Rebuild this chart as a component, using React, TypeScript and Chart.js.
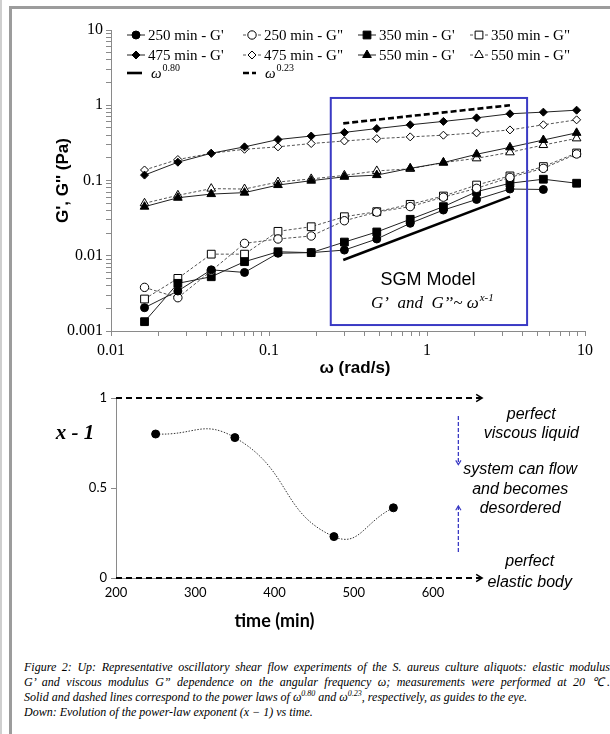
import React, { useEffect, useRef } from 'react';
import { Chart, registerables } from 'chart.js';
import { drawPoint } from 'chart.js/helpers';

Chart.register(...registerables);

// ---------------- data (top chart) ----------------
const omega = [0.0163, 0.0265, 0.0431, 0.07, 0.114, 0.185, 0.3, 0.481, 0.783, 1.27, 2.06, 3.35, 5.45, 8.85];
const g250Elastic = [0.00204, 0.0034, 0.0065, 0.006, 0.0108, 0.011, 0.0119, 0.0167, 0.027, 0.0405, 0.056, 0.077, 0.076, null];
const g250Viscous = [0.0038, 0.00277, 0.0063, 0.0146, 0.0167, 0.0183, 0.0292, 0.038, 0.045, 0.06, 0.0787, 0.11, 0.145, 0.225];
const g350Elastic = [0.00133, 0.0043, 0.00526, 0.00834, 0.0113, 0.011, 0.0152, 0.0207, 0.0305, 0.0449, 0.071, 0.092, 0.104, 0.092];
const g350Viscous = [0.00266, 0.005, 0.0105, 0.0105, 0.0211, 0.0243, 0.033, 0.0385, 0.0482, 0.0622, 0.087, 0.115, 0.153, 0.232];
const g475Elastic = [0.118, 0.175, 0.23, 0.28, 0.35, 0.39, 0.436, 0.49, 0.55, 0.61, 0.68, 0.77, 0.81, 0.86];
const g475Viscous = [0.138, 0.19, 0.23, 0.26, 0.28, 0.31, 0.335, 0.36, 0.38, 0.4, 0.43, 0.47, 0.55, 0.64];
const g550Elastic = [0.0449, 0.059, 0.066, 0.069, 0.087, 0.0995, 0.112, 0.118, 0.145, 0.173, 0.223, 0.276, 0.345, 0.43];
const g550Viscous = [0.0498, 0.0636, 0.078, 0.077, 0.0955, 0.105, 0.117, 0.134, 0.143, 0.173, 0.197, 0.237, 0.296, 0.363];
const powerLawOmega = [0.295, 3.35];
const powerLaw080 = [0.0088, 0.061];
const powerLaw023 = [0.575, 1.0];
const omegaTicks = [0.01, 0.1, 1, 10];
const omegaTickLabels = ['0.01', '0.1', '1', '10'];
const modulusTicks = [0.001, 0.01, 0.1, 1, 10];
const modulusTickLabels = ['0.001', '0.01', '0.1', '1', '10'];
const sgmBoxOmega = [0.246, 4.3];
const sgmBoxModulus = [0.0012, 1.25];

// ---------------- data (bottom chart) ----------------
const timeMin = [250, 350, 475, 550];
const exponentValues = [0.8, 0.78, 0.23, 0.39];
const timeTicks = [200, 300, 400, 500, 600];
const exponentTicks = [0, 0.5, 1];
const exponentTickLabels = ['0', '0.5', '1'];
const limitTimes = [200, 662];
const viscousLimit = [1, 1];
const elasticLimit = [0, 0];
const guideTime = [632, 632];
const guideDown = [0.9, 0.63];
const guideUp = [0.145, 0.4];

// ---------------- styles ----------------
const SERIF = "'Liberation Serif', 'Times New Roman', serif";
const SANS = "'Liberation Sans', Arial, sans-serif";
const CAL = "Lato, 'Liberation Sans', sans-serif";
const AXIS_GRAY = '#8a8a8a';

const topSeries = [
  { label: "250 min - G'", values: g250Elastic, style: 'circle', filled: true, dashed: false, r: 4 },
  { label: '250 min - G"', values: g250Viscous, style: 'circle', filled: false, dashed: true, r: 4.2 },
  { label: "350 min - G'", values: g350Elastic, style: 'rect', filled: true, dashed: false, r: 5.5 },
  { label: '350 min - G"', values: g350Viscous, style: 'rect', filled: false, dashed: true, r: 5.5 },
  { label: "475 min - G'", values: g475Elastic, style: 'rectRot', filled: true, dashed: false, r: 4 },
  { label: '475 min - G"', values: g475Viscous, style: 'rectRot', filled: false, dashed: true, r: 4 },
  { label: "550 min - G'", values: g550Elastic, style: 'triangle', filled: true, dashed: false, r: 5 },
  { label: '550 min - G"', values: g550Viscous, style: 'triangle', filled: false, dashed: true, r: 5 },
];

const legendCols = [127, 243, 358, 470];
const legendRows = [35, 55, 73];

const logTicks = (majors: number[]) => {
  const out: number[] = [];
  for (let i = 0; i < majors.length - 1; i++) {
    for (let k = 1; k <= 9; k++) out.push(+(majors[i] * k).toPrecision(6));
  }
  out.push(majors[majors.length - 1]);
  return out;
};
const labelFor = (majors: number[], labels: string[]) => (v: any) => {
  const n = Number(v);
  const i = majors.findIndex((m) => Math.abs(n - m) <= Math.abs(m) * 1e-6 + 1e-12);
  return i >= 0 ? labels[i] : '';
};

function arrowHead(ctx: CanvasRenderingContext2D, x1: number, y1: number, x2: number, y2: number, size: number, color: string, width: number) {
  const a = Math.atan2(y2 - y1, x2 - x1);
  ctx.save();
  ctx.strokeStyle = color;
  ctx.lineWidth = width;
  ctx.setLineDash([]);
  ctx.beginPath();
  ctx.moveTo(x2 - size * Math.cos(a - 0.55), y2 - size * Math.sin(a - 0.55));
  ctx.lineTo(x2, y2);
  ctx.lineTo(x2 - size * Math.cos(a + 0.55), y2 - size * Math.sin(a + 0.55));
  ctx.stroke();
  ctx.restore();
}

const topPlugin = {
  id: 'topDecor',
  afterDatasetsDraw(chart: any) {
    const { ctx, scales } = chart;
    const xs = scales.x;
    const ys = scales.y;
    // SGM box
    const bx1 = xs.getPixelForValue(sgmBoxOmega[0]);
    const bx2 = xs.getPixelForValue(sgmBoxOmega[1]);
    const by1 = ys.getPixelForValue(sgmBoxModulus[1]);
    const by2 = ys.getPixelForValue(sgmBoxModulus[0]);
    ctx.save();
    ctx.strokeStyle = '#3a3ac4';
    ctx.lineWidth = 2;
    ctx.strokeRect(bx1, by1, bx2 - bx1, by2 - by1);
    // texts
    ctx.fillStyle = '#000';
    ctx.textAlign = 'center';
    ctx.textBaseline = 'middle';
    ctx.font = `18px ${SANS}`;
    ctx.fillText('SGM Model', xs.getPixelForValue(1.014), ys.getPixelForValue(0.00476));
    const parts = [
      { t: 'G’  and  G’’~ ω', f: `italic 17px ${SERIF}`, dy: 0 },
      { t: 'x-1', f: `italic 11px ${SERIF}`, dy: -6 },
    ];
    let total = 0;
    parts.forEach((p) => { ctx.font = p.f; total += ctx.measureText(p.t).width + 1; });
    let px = xs.getPixelForValue(1.09) - total / 2;
    const py = ys.getPixelForValue(0.00229);
    ctx.textAlign = 'left';
    parts.forEach((p) => { ctx.font = p.f; ctx.fillText(p.t, px, py + p.dy); px += ctx.measureText(p.t).width + 1; });
    ctx.restore();
  },
  afterDraw(chart: any) {
    const { ctx, chartArea } = chart;
    // x-axis title
    ctx.save();
    ctx.fillStyle = '#000';
    ctx.textAlign = 'center';
    ctx.textBaseline = 'middle';
    ctx.font = `bold 17px ${SANS}`;
    ctx.fillText('ω (rad/s)', (chartArea.left + chartArea.right) / 2 + 7, chartArea.bottom + 37);
    ctx.restore();
    // legend
    chart.data.datasets.forEach((ds: any, i: number) => {
      const col = i % 4;
      const row = Math.floor(i / 4);
      const x = legendCols[col];
      const y = legendRows[row];
      const len = ds.legendLen;
      ctx.save();
      ctx.strokeStyle = ds.borderColor;
      ctx.lineWidth = ds.borderWidth;
      ctx.setLineDash(ds.borderDash || []);
      ctx.beginPath();
      ctx.moveTo(x, y);
      ctx.lineTo(x + len, y);
      ctx.stroke();
      ctx.setLineDash([]);
      if (ds.pointRadius > 0) {
        ctx.fillStyle = ds.pointBackgroundColor;
        ctx.strokeStyle = ds.pointBorderColor;
        ctx.lineWidth = 1;
        drawPoint(ctx, { pointStyle: ds.pointStyle, radius: ds.pointRadius, borderWidth: 1, rotation: 0 } as any, x + len / 2, y);
      }
      ctx.fillStyle = '#000';
      ctx.textBaseline = 'middle';
      ctx.textAlign = 'left';
      const tx = x + len + ds.legendGap;
      if (ds.label.startsWith('ω^')) {
        ctx.font = `italic 15px ${SERIF}`;
        ctx.fillText('ω', tx, y + 1);
        const w = ctx.measureText('ω').width;
        ctx.font = `10px ${SERIF}`;
        ctx.fillText(ds.label.slice(2), tx + w + 1, y - 5);
      } else {
        ctx.font = `15px ${SERIF}`;
        ctx.fillText(ds.label, tx, y + 1);
      }
      ctx.restore();
    });
  },
};

const bottomNotes = [
  { text: 'perfect', t: 724, v: 0.91 },
  { text: 'viscous liquid', t: 724, v: 0.8 },
  { text: 'system can flow', t: 710, v: 0.6 },
  { text: 'and becomes', t: 710, v: 0.494 },
  { text: 'desordered', t: 710, v: 0.388 },
  { text: 'perfect', t: 722, v: 0.09 },
  { text: 'elastic body', t: 722, v: -0.027 },
];

const bottomPlugin = {
  id: 'bottomDecor',
  afterDatasetsDraw(chart: any) {
    const { ctx, scales, chartArea } = chart;
    chart.data.datasets.forEach((ds: any, i: number) => {
      if (!ds.arrow) return;
      const pts = chart.getDatasetMeta(i).data;
      const a = pts[pts.length - 2];
      const b = pts[pts.length - 1];
      arrowHead(ctx, a.x, a.y, b.x, b.y, ds.arrowSize, ds.arrowColor, ds.arrowWidth);
    });
    ctx.save();
    ctx.fillStyle = '#000';
    ctx.textAlign = 'center';
    ctx.textBaseline = 'middle';
    ctx.font = `italic 16px ${SANS}`;
    bottomNotes.forEach((n) => {
      ctx.fillText(n.text, scales.x.getPixelForValue(n.t), scales.y.getPixelForValue(n.v));
    });
    ctx.font = `italic bold 21px ${SERIF}`;
    ctx.fillText('x - 1', chartArea.left - 41, scales.y.getPixelForValue(0.8));
    ctx.restore();
  },
};

function TopChart() {
  const ref = useRef<HTMLCanvasElement>(null);
  useEffect(() => {
    if (!ref.current) return;
    const datasets: any[] = topSeries.map((s) => ({
      label: s.label,
      data: omega.map((x, i) => ({ x, y: s.values[i] })).filter((p) => p.y !== null),
      showLine: true,
      borderColor: s.dashed ? '#555' : '#222',
      borderWidth: 1,
      borderDash: s.dashed ? [3, 2] : [],
      pointStyle: s.style,
      pointRadius: s.r,
      pointHoverRadius: s.r,
      pointBackgroundColor: s.filled ? '#000' : '#fff',
      pointBorderColor: '#000',
      pointBorderWidth: 1,
      legendLen: 18,
      legendGap: 3,
    }));
    datasets.push({
      label: 'ω^0.80',
      data: powerLawOmega.map((x, i) => ({ x, y: powerLaw080[i] })),
      showLine: true,
      borderColor: '#000',
      borderWidth: 2.6,
      borderDash: [],
      pointRadius: 0,
      legendLen: 15,
      legendGap: 9,
    });
    datasets.push({
      label: 'ω^0.23',
      data: powerLawOmega.map((x, i) => ({ x, y: powerLaw023[i] })),
      showLine: true,
      borderColor: '#000',
      borderWidth: 2.6,
      borderDash: [6, 3],
      pointRadius: 0,
      legendLen: 13,
      legendGap: 9,
    });
    const chart = new Chart(ref.current, {
      type: 'scatter',
      data: { datasets },
      options: {
        animation: false,
        responsive: false,
        devicePixelRatio: 1,
        events: [],
        layout: { padding: { left: 0, right: 25, top: 30, bottom: 0 } },
        plugins: { legend: { display: false }, tooltip: { enabled: false } },
        scales: {
          x: {
            type: 'logarithmic',
            min: 0.01,
            max: 10,
            afterBuildTicks: (s: any) => { s.ticks = logTicks(omegaTicks).map((v) => ({ value: v })); },
            afterFit: (s: any) => { s.height = 49; },
            ticks: { autoSkip: false, maxRotation: 0, callback: labelFor(omegaTicks, omegaTickLabels), font: { family: SERIF, size: 16 }, color: '#000', padding: 5 },
            grid: { display: true, drawOnChartArea: false, drawTicks: true, tickLength: 5, color: AXIS_GRAY },
            border: { display: true, color: AXIS_GRAY, width: 1 },
          },
          y: {
            type: 'logarithmic',
            min: 0.001,
            max: 10,
            afterBuildTicks: (s: any) => { s.ticks = logTicks(modulusTicks).map((v) => ({ value: v })); },
            afterFit: (s: any) => { s.width = 111; },
            ticks: { autoSkip: false, callback: labelFor(modulusTicks, modulusTickLabels), font: { family: SERIF, size: 16 }, color: '#000', padding: 3 },
            grid: { display: true, drawOnChartArea: false, drawTicks: true, tickLength: 5, color: AXIS_GRAY },
            border: { display: true, color: AXIS_GRAY, width: 1 },
            title: { display: true, text: "G', G'' (Pa)", font: { family: SANS, size: 17, weight: 'bold' }, color: '#000', padding: { top: 53, bottom: 0 } },
          },
        },
      } as any,
      plugins: [topPlugin],
    });
    return () => chart.destroy();
  }, []);
  return <canvas ref={ref} width={610} height={380} style={{ position: 'absolute', left: 0, top: 0, width: 610, height: 380 }} />;
}

function BottomChart() {
  const ref = useRef<HTMLCanvasElement>(null);
  useEffect(() => {
    if (!ref.current) return;
    const datasets: any[] = [
      {
        label: 'x - 1',
        data: timeMin.map((t, i) => ({ x: t, y: exponentValues[i] })),
        showLine: true,
        borderColor: '#333',
        borderWidth: 1,
        borderDash: [1.5, 1.5],
        tension: 0.5,
        pointRadius: 4,
        pointBackgroundColor: '#000',
        pointBorderColor: '#000',
        pointBorderWidth: 1,
      },
      {
        label: 'viscous limit',
        data: limitTimes.map((t, i) => ({ x: t, y: viscousLimit[i] })),
        showLine: true, borderColor: '#000', borderWidth: 2, borderDash: [6, 4], pointRadius: 0, clip: false,
        arrow: true, arrowSize: 7, arrowColor: '#000', arrowWidth: 1.5,
      },
      {
        label: 'elastic limit',
        data: limitTimes.map((t, i) => ({ x: t, y: elasticLimit[i] })),
        showLine: true, borderColor: '#000', borderWidth: 2, borderDash: [6, 4], pointRadius: 0, clip: false,
        arrow: true, arrowSize: 7, arrowColor: '#000', arrowWidth: 1.5,
      },
      {
        label: 'to flow (down)',
        data: guideTime.map((t, i) => ({ x: t, y: guideDown[i] })),
        showLine: true, borderColor: '#3a3ac4', borderWidth: 1.3, borderDash: [4, 2], pointRadius: 0, clip: false,
        arrow: true, arrowSize: 5, arrowColor: '#3a3ac4', arrowWidth: 1.2,
      },
      {
        label: 'to flow (up)',
        data: guideTime.map((t, i) => ({ x: t, y: guideUp[i] })),
        showLine: true, borderColor: '#3a3ac4', borderWidth: 1.3, borderDash: [4, 2], pointRadius: 0, clip: false,
        arrow: true, arrowSize: 5, arrowColor: '#3a3ac4', arrowWidth: 1.2,
      },
    ];
    const chart = new Chart(ref.current, {
      type: 'scatter',
      data: { datasets },
      options: {
        animation: false,
        responsive: false,
        devicePixelRatio: 1,
        events: [],
        layout: { padding: { left: 0, right: 177, top: 18, bottom: 0 } },
        plugins: { legend: { display: false }, tooltip: { enabled: false } },
        scales: {
          x: {
            type: 'linear',
            min: 200,
            max: 600,
            afterBuildTicks: (s: any) => { s.ticks = timeTicks.map((v) => ({ value: v })); },
            afterFit: (s: any) => { s.height = 62; },
            ticks: { autoSkip: false, maxRotation: 0, font: { family: CAL, size: 13 }, color: '#000', padding: 7 },
            grid: { display: false, drawTicks: false },
            border: { display: true, color: AXIS_GRAY, width: 1 },
            title: { display: true, text: 'time (min)', font: { family: CAL, size: 18, weight: 'bold' }, color: '#000', padding: { top: 0, bottom: 8 } },
          },
          y: {
            type: 'linear',
            min: 0,
            max: 1,
            afterBuildTicks: (s: any) => { s.ticks = exponentTicks.map((v) => ({ value: v })); },
            afterFit: (s: any) => { s.width = 116; },
            ticks: { autoSkip: false, callback: labelFor(exponentTicks, exponentTickLabels), font: { family: CAL, size: 13 }, color: '#000', padding: 4 },
            grid: { display: true, drawOnChartArea: false, drawTicks: true, tickLength: 5, color: AXIS_GRAY },
            border: { display: true, color: AXIS_GRAY, width: 1 },
          },
        },
      } as any,
      plugins: [bottomPlugin],
    });
    return () => chart.destroy();
  }, []);
  return <canvas ref={ref} width={610} height={260} style={{ position: 'absolute', left: 0, top: 380, width: 610, height: 260 }} />;
}

const captionLine: React.CSSProperties = { whiteSpace: 'nowrap', height: 15, lineHeight: '15px' };
const supStyle: React.CSSProperties = { fontSize: 8, lineHeight: 0 };

export default function App() {
  return (
    <div style={{ position: 'absolute', left: 0, top: 0, width: 610, height: 734, overflow: 'hidden', background: '#fff' }}>
      <div style={{ position: 'absolute', left: 0, top: 0, width: 2, height: 734, background: '#cfcfcf' }} />
      <div style={{ position: 'absolute', left: 9, top: 6, width: 3, height: 728, background: '#9c9c9c' }} />
      <div style={{ position: 'absolute', left: 9, top: 6, width: 601, height: 3, background: '#9c9c9c' }} />
      <TopChart />
      <BottomChart />
      <div
        style={{
          position: 'absolute', left: 24, top: 660, width: 586,
          fontFamily: SERIF, fontStyle: 'italic', fontSize: 12, color: '#000',
        }}
      >
        <div style={{ ...captionLine, textAlign: 'justify', textAlignLast: 'justify', whiteSpace: 'normal' }}>
          Figure 2: Up: Representative oscillatory shear flow experiments of the S. aureus culture aliquots: elastic modulus
        </div>
        <div style={{ ...captionLine, textAlign: 'justify', textAlignLast: 'justify', whiteSpace: 'normal' }}>
          G’ and viscous modulus G” dependence on the angular frequency ω; measurements were performed at 20 ℃.
        </div>
        <div style={captionLine}>
          Solid and dashed lines correspond to the power laws of ω<sup style={supStyle}>0.80</sup> and ω<sup style={supStyle}>0.23</sup>, respectively, as guides to the eye.
        </div>
        <div style={captionLine}>Down: Evolution of the power-law exponent (x − 1) vs time.</div>
      </div>
    </div>
  );
}
